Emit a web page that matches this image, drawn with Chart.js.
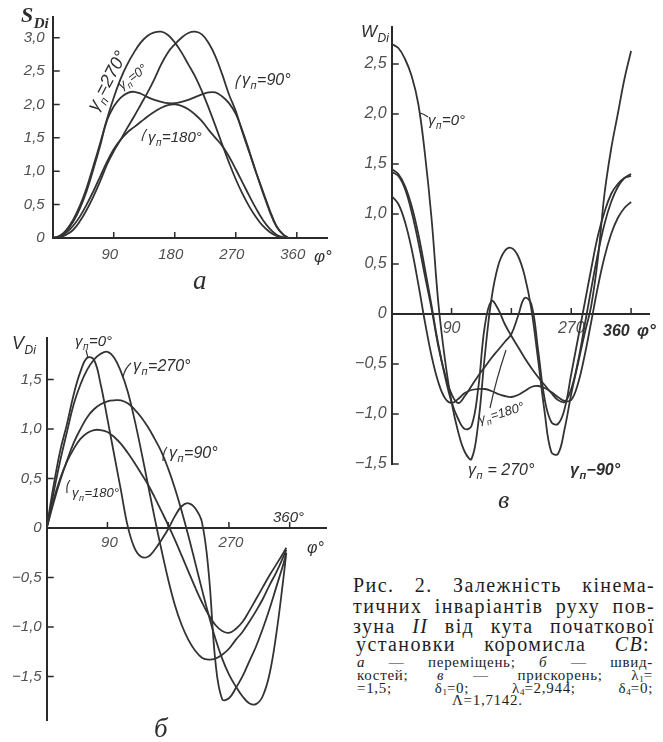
<!DOCTYPE html>
<html>
<head>
<meta charset="utf-8">
<script src="https://cdn.jsdelivr.net/npm/chart.js@4.4.1/dist/chart.umd.min.js"></script>
<style>
  body { margin: 0; background: #fff; width: 663px; height: 742px; position: relative; overflow: hidden; }
  canvas { position: absolute; }
  .big { position: absolute; left: 353px; width: 302px; font: 20px/20px "Liberation Serif", serif; color: #1e1e1e;
         letter-spacing: 1.4px; text-align: justify; text-align-last: justify; }
  .small { position: absolute; left: 357px; width: 296px; font: 15px/13px "Liberation Serif", serif; color: #1e1e1e;
           letter-spacing: 0.7px; text-align: justify; text-align-last: justify; }
  sub { font-size: 9px; vertical-align: -2px; line-height: 0; letter-spacing: 0; }
</style>
</head>
<body>
<canvas id="chartA" width="340" height="300" style="left:0;top:0"></canvas>
<canvas id="chartB" width="340" height="412" style="left:0;top:330px"></canvas>
<canvas id="chartW" width="323" height="520" style="left:340px;top:0"></canvas>

<div class="big" style="top:575px">Рис. 2. Залежність кінема-</div>
<div class="big" style="top:596px">тичних інваріантів руху пов-</div>
<div class="big" style="top:616px">зуна <i>II</i> від кута початкової</div>
<div class="big" style="top:634px;left:356px;width:294px">установки коромисла <i>CB</i>:</div>
<div class="small" style="top:656px"><i>а</i> — переміщень; <i>б</i> — швид-</div>
<div class="small" style="top:669px">костей; <i>в</i> — прискорень; λ<sub>1</sub>=</div>
<div class="small" style="top:682px">=1,5; δ<sub>1</sub>=0; λ<sub>4</sub>=2,944; δ<sub>4</sub>=0;</div>
<div class="small" style="top:694px;left:452px;width:auto;text-align-last:auto">Λ=1,7142.</div>

<script>
// а) displacement S_Di, φ in degrees
const phiA = [0,10,20,30,40,50,60,70,80,90,100,110,120,130,140,150,160,170,180,190,200,210,220,230,240,250,260,270,280,290,300,310,320,330,340,348];
const sA0   = [0,0.03,0.1,0.24,0.44,0.7,1.03,1.38,1.76,1.97, 2.1,2.17,2.19,2.16,2.11,2.07,2.04,2.02,2.02,2.04, 2.07,2.11,2.15,2.18,2.18,2.12,2.02,1.86,1.6,1.3, 0.98,0.68,0.4,0.17,0.05, 0];
const sA90  = [0,0.01,0.05,0.12,0.25,0.42,0.62,0.85,1.1,1.3, 1.47,1.65,1.82,2.0,2.18,2.38,2.6,2.78,2.9,3.0, 3.07,3.09,3.05,2.92,2.72,2.45,2.15,1.9,1.58,1.28, 0.98,0.7,0.42,0.18,0.05, 0];
const sA180 = [0,0.02,0.08,0.18,0.32,0.5,0.7,0.92,1.14,1.33, 1.47,1.58,1.66,1.74,1.82,1.89,1.95,1.99,2.0,1.98, 1.93,1.85,1.75,1.62,1.5,1.38,1.22,1.03,0.83,0.63, 0.44,0.27,0.14,0.05,0.01, 0];
const sA270 = [0,0.03,0.12,0.27,0.48,0.75,1.08,1.42,1.78,2.1, 2.38,2.6,2.78,2.93,3.03,3.08,3.09,3.04,2.93,2.78, 2.6,2.42,2.2,1.95,1.68,1.4,1.13,0.88,0.66,0.47, 0.31,0.18,0.09,0.03,0.01, 0];

// б) velocity V_Di
const phiB = [0,10,20,30,40,50,60,70,80,90,100,110,120,130,140,150,160,170,180,190,200,210,220,230,240,250,260,270,280,290,300,310,320,330,340,350,355];
const vB0   = [0,0.42,0.78,1.05,1.35,1.58,1.72,1.7,1.45,1.1, 0.74,0.38,0.02,-0.2,-0.29,-0.29,-0.22,-0.12,-0.01,0.12, 0.22,0.25,0.2,0.06,-0.45,-1.35,-1.73,-1.72,-1.62,-1.5, -1.35,-1.2,-1.02,-0.82,-0.6,-0.38, -0.25];
const vB90  = [0,0.25,0.48,0.68,0.86,1.0,1.12,1.2,1.25,1.28, 1.29,1.29,1.26,1.2,1.12,1.02,0.9,0.77,0.6,0.4, 0.17,-0.08,-0.35,-0.62,-0.88,-1.12,-1.32,-1.48,-1.6,-1.7, -1.77,-1.78,-1.7,-1.48,-1.08,-0.55, -0.25];
const vB180 = [0,0.28,0.5,0.67,0.8,0.9,0.96,0.99,0.99,0.97, 0.92,0.85,0.76,0.66,0.55,0.44,0.31,0.17,0.03,-0.12, -0.28,-0.44,-0.6,-0.75,-0.88,-0.98,-1.04,-1.06,-1.02,-0.95, -0.84,-0.72,-0.6,-0.48,-0.37,-0.26, -0.2];
const vB270 = [0,0.35,0.68,0.97,1.25,1.45,1.6,1.7,1.76,1.78, 1.72,1.58,1.38,1.1,0.78,0.44,0.1,-0.22,-0.52,-0.78, -0.98,-1.13,-1.24,-1.31,-1.33,-1.32,-1.28,-1.22,-1.13,-1.05, -0.95,-0.84,-0.72,-0.58,-0.45,-0.3, -0.22];

// в) acceleration W_Di
const phiW = [0,10,20,30,40,50,60,70,80,90,100,110,120,130,140,150,160,170,180,190,200,210,220,230,240,250,260,270,280,290,300,310,320,330,340,350,360];
const wW0   = [2.7,2.66,2.55,2.38,2.1,1.6,0.95,0.12,-0.45,-0.88, -1.18,-1.38,-1.45,-1.1,-0.42,0.15,0.48,0.63,0.66,0.58, 0.38,0.05,-0.45,-0.98,-1.38,-1.4,-1.15,-0.8,-0.5,-0.2, 0.08,0.55,1.2,1.65,2.0,2.35, 2.63];
const wW90  = [1.42,1.38,1.25,1.02,0.72,0.38,0.05,-0.32,-0.6,-0.8, -0.89,-0.82,-0.72,-0.62,-0.53,-0.44,-0.36,-0.28,-0.2,-0.02, 0.16,0.1,-0.35,-0.85,-1.08,-1.1,-0.95,-0.6,-0.25,0.1, 0.45,0.78,1.02,1.2,1.3,1.36, 1.38];
const wW180 = [1.18,1.1,0.92,0.65,0.3,-0.08,-0.42,-0.68,-0.84,-0.89, -0.85,-0.79,-0.76,-0.75,-0.75,-0.77,-0.8,-0.82,-0.83,-0.81, -0.77,-0.73,-0.72,-0.74,-0.78,-0.83,-0.87,-0.86,-0.7,-0.42, -0.08,0.27,0.57,0.8,0.96,1.06, 1.12];
const wW270 = [1.45,1.4,1.28,1.08,0.8,0.45,0.08,-0.3,-0.62,-0.88, -1.05,-1.15,-1.12,-0.75,-0.12,0.13,0.05,-0.1,-0.22,-0.33, -0.44,-0.54,-0.63,-0.71,-0.79,-0.86,-0.88,-0.75,-0.48,-0.12, 0.25,0.6,0.9,1.12,1.27,1.36, 1.4];

// ticks
const xTicks = [90, 180, 270, 360];
const xLabelsA = ['90', '180', '270', '360'];
const xLabelsB = ['90', '', '270', ''];
const xLabelsW = ['90', '', '270', ''];
const yTicksA = [0, 0.5, 1, 1.5, 2, 2.5, 3];
const yTicksB = [-1.5, -1, -0.5, 0, 0.5, 1, 1.5];
const yTicksW = [-1.5, -1, -0.5, 0, 0.5, 1, 1.5, 2, 2.5];

const INK = '#333';
const AXIS = '#2a2a2a';
const LABEL = '#505050';

function fmt(v) {
  if (v === 0) return '0';
  return (v < 0 ? '\u2212' : '') + Math.abs(v).toFixed(1).replace('.', ',');
}

function gamma(rest, x, y, size, rot, bold) {
  return { parts: [{ t: 'γ' }, { t: 'п', sub: true }, { t: rest }], x, y, size, rot, bold };
}

function drawNote(ctx, n) {
  ctx.save();
  if (n.line) {
    ctx.strokeStyle = INK; ctx.lineWidth = 1.2;
    ctx.beginPath();
    ctx.moveTo(n.line[0][0], n.line[0][1]);
    ctx.quadraticCurveTo(n.line[1][0], n.line[1][1], n.line[2][0], n.line[2][1]);
    ctx.stroke();
    ctx.restore();
    return;
  }
  ctx.translate(n.x, n.y);
  if (n.rot) ctx.rotate(n.rot * Math.PI / 180);
  ctx.fillStyle = n.color || '#2e2e2e';
  ctx.textAlign = 'left';
  ctx.textBaseline = 'alphabetic';
  const fam = n.serif ? '"Liberation Serif", serif' : '"Liberation Sans", sans-serif';
  let x = 0;
  n.parts.forEach(p => {
    const size = p.sub ? Math.round(n.size * 0.68) : n.size;
    ctx.font = 'italic ' + (n.bold ? 'bold ' : '') + size + 'px ' + fam;
    ctx.fillText(p.t, x, p.sub ? n.size * 0.28 : 0);
    x += ctx.measureText(p.t).width + 0.5;
  });
  ctx.restore();
}

function decor(notes) {
  return {
    id: 'decor',
    afterDraw(chart) {
      const ctx = chart.ctx;
      const xs = chart.scales.x, ys = chart.scales.y;
      const x0 = xs.getPixelForValue(0), y0 = ys.getPixelForValue(0);
      ctx.save();
      ctx.strokeStyle = AXIS;
      ctx.lineWidth = 1.5;
      ctx.beginPath();
      xs.ticks.forEach(t => {
        const px = xs.getPixelForValue(t.value);
        ctx.moveTo(px, y0); ctx.lineTo(px, y0 - 6);
      });
      ys.ticks.forEach(t => {
        const py = ys.getPixelForValue(t.value);
        ctx.moveTo(x0, py); ctx.lineTo(x0 + 7, py);
      });
      ctx.stroke();
      ctx.restore();
      notes.forEach(n => drawNote(ctx, n));
    }
  };
}

function lineChart(id, phi, curves, c) {
  const ctx = document.getElementById(id);
  const atBottom = c.xPos === 'bottom';
  return new Chart(ctx, {
    type: 'line',
    data: {
      datasets: curves.map(vals => ({
        data: vals.map((v, i) => ({ x: phi[i], y: v })),
        borderColor: INK,
        borderWidth: 1.8,
        pointRadius: 0,
        tension: 0.4,
        fill: false
      }))
    },
    options: {
      responsive: false,
      animation: false,
      events: [],
      layout: { padding: { left: 0, top: c.pad.top, right: c.pad.right, bottom: atBottom ? 0 : c.pad.bottom } },
      plugins: { legend: { display: false }, tooltip: { enabled: false } },
      scales: {
        x: {
          type: 'linear', min: 0, max: c.xMax, position: c.xPos,
          afterBuildTicks: s => { s.ticks = xTicks.map(v => ({ value: v })); },
          afterFit: s => {
            s.height = atBottom ? c.pad.bottom : 0;
            s.paddingLeft = 0; s.paddingRight = 0;
          },
          grid: { display: false, drawTicks: false },
          border: { color: AXIS, width: 2 },
          ticks: {
            callback: (v, i) => c.xLabels[i],
            color: LABEL, font: { family: 'Liberation Sans', size: c.font, style: 'italic' },
            padding: c.xPad, maxRotation: 0, autoSkip: false, labelOffset: c.xShift || 0
          }
        },
        y: {
          type: 'linear', min: c.yMin, max: c.yMax,
          afterBuildTicks: s => { s.ticks = c.yTicks.map(v => ({ value: v })); },
          afterFit: s => {
            s.width = c.pad.left;
            s.paddingTop = 0; s.paddingBottom = 0;
          },
          grid: { display: false, drawTicks: false },
          border: { color: AXIS, width: 2 },
          ticks: {
            callback: v => fmt(v),
            color: LABEL, font: { family: 'Liberation Sans', size: c.font, style: 'italic' },
            padding: c.yPad, autoSkip: false
          }
        }
      }
    },
    plugins: [decor(c.notes)]
  });
}

lineChart('chartA', phiA, [sA0, sA90, sA180, sA270], {
  pad: { left: 52.7, top: 17, right: 12.7, bottom: 62 },
  xMax: 405, yMin: 0, yMax: 3.31, xPos: 'bottom',
  xLabels: xLabelsA, yTicks: yTicksA, font: 15, xPad: 8, yPad: 8, xShift: -4,
  notes: [
    { parts: [{ t: 'S' }, { t: 'Di', sub: true }], x: 21, y: 22, size: 22, serif: true, bold: true },
    gamma('=270°', 97, 112, 18, -62),
    gamma('=0°', 122, 90, 13, -37),
    gamma('=90°', 242, 85, 16, 0),
    { line: [[241, 75], [236, 80], [236, 89]] },
    gamma('=180°', 148, 142, 15, 0),
    { line: [[147, 129], [143, 134], [142, 141]] },
    { parts: [{ t: 'а' }], x: 193, y: 289, size: 27, serif: true },
    { parts: [{ t: 'φ°' }], x: 314, y: 262, size: 17 }
  ]
});

lineChart('chartB', phiB, [vB0, vB90, vB180, vB270], {
  pad: { left: 46.7, top: 8, right: 13.2, bottom: 22 },
  xMax: 415, yMin: -1.94, yMax: 1.92, xPos: { y: 0 },
  xLabels: xLabelsB, yTicks: yTicksB, font: 15, xPad: 6, yPad: 5, xShift: 2,
  notes: [
    { parts: [{ t: 'V' }, { t: 'Di', sub: true }], x: 12, y: 19, size: 18 },
    gamma('=0°', 75, 16, 15, 0),
    { line: [[86, 20], [87, 24], [88, 28]] },
    gamma('=270°', 133, 41, 16, 0),
    { line: [[131, 33], [125, 38], [123, 47]] },
    gamma('=90°', 169, 128, 16, 0),
    { line: [[167, 117], [163, 122], [163, 131]] },
    gamma('=180°', 72, 167, 13, 0),
    { line: [[70, 150], [66, 155], [67, 163]] },
    { parts: [{ t: '360°' }], x: 273, y: 192, size: 15 },
    { parts: [{ t: 'φ°' }], x: 307, y: 223, size: 16 },
    { parts: [{ t: 'б' }], x: 154, y: 407, size: 27, serif: true }
  ]
});

lineChart('chartW', phiW, [wW0, wW90, wW180, wW270], {
  pad: { left: 51.7, top: 27, right: 13.3, bottom: 56 },
  xMax: 388, yMin: -1.5, yMax: 2.87, xPos: { y: 0 },
  xLabels: xLabelsW, yTicks: yTicksW, font: 16, xPad: 5, yPad: 5, xShift: 0,
  notes: [
    { parts: [{ t: 'W' }, { t: 'Di', sub: true }], x: 21, y: 37, size: 17 },
    gamma('=0°', 88, 125, 15, 0),
    { line: [[80, 113], [84, 114], [88, 117]] },
    gamma('=180°', 140, 424, 13, -17),
    { line: [[150, 408], [156, 380], [166, 350]] },
    gamma(' = 270°', 128, 475, 16, 0),
    gamma('−90°', 230, 475, 16, 0, true),
    { parts: [{ t: 'в' }], x: 158, y: 508, size: 26, serif: true },
    { parts: [{ t: '360' }], x: 263, y: 336, size: 16, bold: true },
    { parts: [{ t: 'φ°' }], x: 297, y: 336, size: 17, bold: true }
  ]
});
</script>
</body>
</html>
